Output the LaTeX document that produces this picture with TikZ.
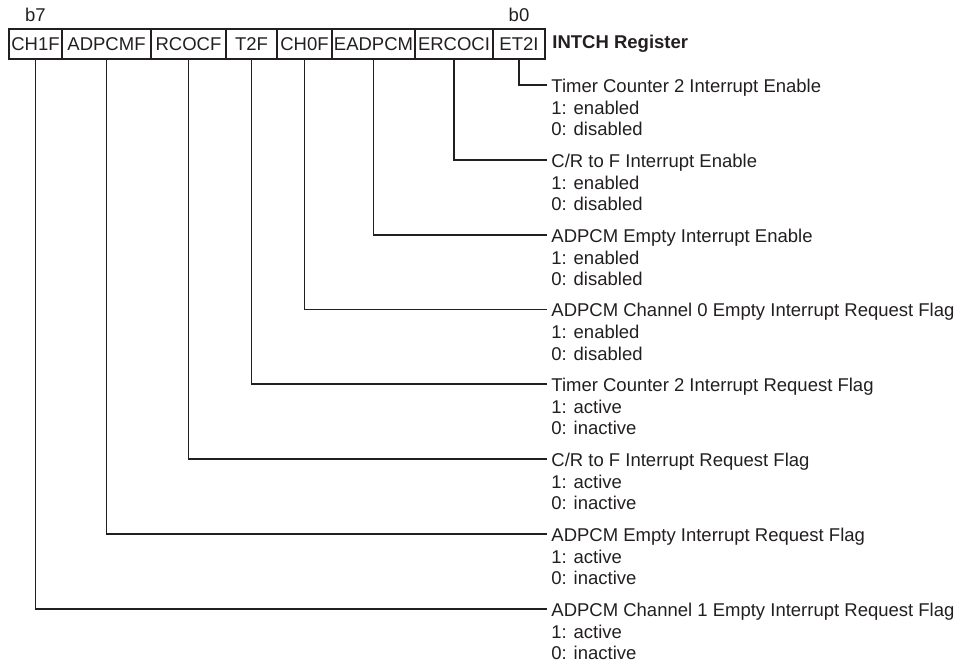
\documentclass[tikz,border=0pt]{standalone}
\usepackage{fontspec}
\setmainfont{Liberation Sans}
\usetikzlibrary{positioning}
\definecolor{ink}{HTML}{231F20}

\begin{document}
\begin{tikzpicture}[
    x=0.5pt, y=0.5pt,
    font=\fontsize{9.25}{10.65}\selectfont,
    % Styles
    bitfield/.style={draw=ink, line width=0.6pt, text=ink, minimum height=15pt, inner xsep=0.5pt, inner ysep=0pt, outer sep=0pt},
    bitnum/.style={text=ink, inner sep=0pt, text height=0.72em, text depth=0pt},
    regname/.style={text=ink, font=\fontsize{9.25}{10.65}\selectfont\bfseries, inner sep=0pt},
    desc/.style={text=ink, anchor=west, inner xsep=2pt, inner ysep=0pt, text height=0.72em, text depth=0pt},
    values/.style={text=ink, align=left, inner xsep=2pt, inner ysep=0pt},
    wire/.style={draw=ink, line width=0.6pt},
]
\useasboundingbox (0,0) rectangle (961,-661);

% Register fields, b7 to b0
\node[bitfield, minimum width=26.5pt, anchor=north west] (ch1f) at (9,-29) {CH1F};
\node[bitfield, minimum width=44.5pt, right=0pt of ch1f] (adpcmf) {ADPCMF};
\node[bitfield, minimum width=37.5pt, right=0pt of adpcmf] (rcocf) {RCOCF};
\node[bitfield, minimum width=25.5pt, right=0pt of rcocf] (t2f) {T2F};
\node[bitfield, minimum width=27.5pt, right=0pt of t2f] (ch0f) {CH0F};
\node[bitfield, minimum width=41.5pt, right=0pt of ch0f] (eadpcm) {EADPCM};
\node[bitfield, minimum width=39pt, right=0pt of eadpcm] (ercoci) {ERCOCI};
\node[bitfield, minimum width=26pt, right=0pt of ercoci] (et2i) {ET2I};

\node[bitnum, above=3.5pt of ch1f] (msb) {b7};
\node[bitnum, above=3.5pt of et2i] (lsb) {b0};
\node[regname, right=3.5pt of et2i] (intch) {INTCH Register};

% Bit descriptions
\node[desc] (et2iDesc) at (547,-85) {Timer Counter 2 Interrupt Enable};
\node[values, below right=4pt and 0pt of et2iDesc.south west] (et2iVal) {1: enabled\\0: disabled};
\draw[wire] (et2i.south) |- (et2iDesc.west);

\node[desc] (ercociDesc) at (547,-160) {C/R to F Interrupt Enable};
\node[values, below right=4pt and 0pt of ercociDesc.south west] (ercociVal) {1: enabled\\0: disabled};
\draw[wire] (ercoci.south) |- (ercociDesc.west);

\node[desc] (eadpcmDesc) at (547,-235) {ADPCM Empty Interrupt Enable};
\node[values, below right=4pt and 0pt of eadpcmDesc.south west] (eadpcmVal) {1: enabled\\0: disabled};
\draw[wire] (eadpcm.south) |- (eadpcmDesc.west);

\node[desc] (ch0fDesc) at (547,-309.5) {ADPCM Channel 0 Empty Interrupt Request Flag};
\node[values, below right=4pt and 0pt of ch0fDesc.south west] (ch0fVal) {1: enabled\\0: disabled};
\draw[wire] (ch0f.south) |- (ch0fDesc.west);

\node[desc] (t2fDesc) at (547,-384) {Timer Counter 2 Interrupt Request Flag};
\node[values, below right=4pt and 0pt of t2fDesc.south west] (t2fVal) {1: active\\0: inactive};
\draw[wire] (t2f.south) |- (t2fDesc.west);

\node[desc] (rcocfDesc) at (547,-459) {C/R to F Interrupt Request Flag};
\node[values, below right=4pt and 0pt of rcocfDesc.south west] (rcocfVal) {1: active\\0: inactive};
\draw[wire] (rcocf.south) |- (rcocfDesc.west);

\node[desc] (adpcmfDesc) at (547,-534) {ADPCM Empty Interrupt Request Flag};
\node[values, below right=4pt and 0pt of adpcmfDesc.south west] (adpcmfVal) {1: active\\0: inactive};
\draw[wire] (adpcmf.south) |- (adpcmfDesc.west);

\node[desc] (ch1fDesc) at (547,-609) {ADPCM Channel 1 Empty Interrupt Request Flag};
\node[values, below right=4pt and 0pt of ch1fDesc.south west] (ch1fVal) {1: active\\0: inactive};
\draw[wire] (ch1f.south) |- (ch1fDesc.west);

\end{tikzpicture}
\end{document}
